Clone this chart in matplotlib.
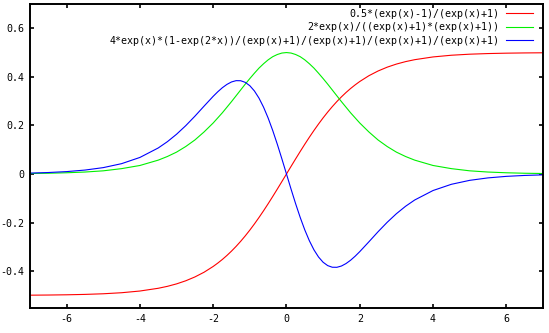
import matplotlib
matplotlib.use('Agg')
import matplotlib.pyplot as plt

# sample points (x >= 0; the curves mirror around x = 0)
x_pos = [0, 0.125, 0.25, 0.375, 0.5, 0.625, 0.75, 0.875, 1, 1.125, 1.25, 1.375,
         1.5, 1.625, 1.75, 1.875, 2, 2.25, 2.5, 2.75, 3, 3.25, 3.5, 4, 4.5,
         5, 5.5, 6, 6.5, 7]

red_pos = [0.0, 0.0312, 0.0622, 0.0927, 0.1225, 0.1514, 0.1792, 0.2058, 0.2311,
           0.2549, 0.2773, 0.2982, 0.3176, 0.3355, 0.3520, 0.3670, 0.3808, 0.4047,
           0.4241, 0.4399, 0.4526, 0.4627, 0.4707, 0.4820, 0.4890, 0.4933, 0.4959,
           0.4975, 0.4985, 0.4991]
green_pos = [0.500, 0.498, 0.492, 0.483, 0.470, 0.454, 0.436, 0.415, 0.393, 0.370,
             0.346, 0.322, 0.298, 0.275, 0.252, 0.231, 0.210, 0.173, 0.140, 0.113,
             0.090, 0.072, 0.057, 0.035, 0.022, 0.013, 0.008, 0.005, 0.003, 0.002]
blue_pos = [0.0, -0.0622, -0.1225, -0.1790, -0.2303, -0.2750, -0.3124, -0.3419,
            -0.3635, -0.3773, -0.3840, -0.3843, -0.3790, -0.3689, -0.3552, -0.3385,
            -0.3198, -0.2792, -0.2378, -0.1988, -0.1636, -0.1330, -0.1071, -0.0681,
            -0.0425, -0.0262, -0.0161, -0.0098, -0.0060, -0.0036]

# red and blue are odd, green is even
x = [-v for v in x_pos[:0:-1]] + x_pos
red = [-v for v in red_pos[:0:-1]] + red_pos
green = green_pos[:0:-1] + green_pos
blue = [-v for v in blue_pos[:0:-1]] + blue_pos

labels = ['0.5*(exp(x)-1)/(exp(x)+1)',
          '2*exp(x)/((exp(x)+1)*(exp(x)+1))',
          '4*exp(x)*(1-exp(2*x))/(exp(x)+1)/(exp(x)+1)/(exp(x)+1)/(exp(x)+1)']
colors = ['#ff0000', '#00f000', '#0000ff']

xticks = [-6, -4, -2, 0, 2, 4, 6]
yticks = [-0.4, -0.2, 0, 0.2, 0.4, 0.6]
ytick_labels = ['-0.4', '-0.2', '0', '0.2', '0.4', '0.6']

plt.rcParams['font.family'] = ['DejaVu Sans Mono']
plt.rcParams['font.size'] = 7.2

fig = plt.figure(figsize=(5.49, 3.33), dpi=100)
ax = fig.add_axes([0.0546, 0.075, 0.9344, 0.913])

for ys, c, lab in zip([red, green, blue], colors, labels):
    ax.plot(x, ys, color=c, lw=0.8, label=lab)

ax.set_xlim(-7, 7)
ax.set_ylim(-0.552, 0.7)
ax.set_xticks(xticks)
ax.set_xticklabels([str(t) for t in xticks])
ax.set_yticks(yticks)
ax.set_yticklabels(ytick_labels)
ax.tick_params(direction='in', length=3, width=1.2, top=True, right=True, pad=4)
for sp in ax.spines.values():
    sp.set_linewidth(1.4)

leg = ax.legend(loc='upper right', bbox_to_anchor=(0.98, 0.985), frameon=False,
                markerfirst=False, handlelength=2.7, handletextpad=0.6,
                labelspacing=0.35, borderaxespad=0, borderpad=0)
leg._legend_box.align = 'right'

fig.savefig('out.png', dpi=100)
